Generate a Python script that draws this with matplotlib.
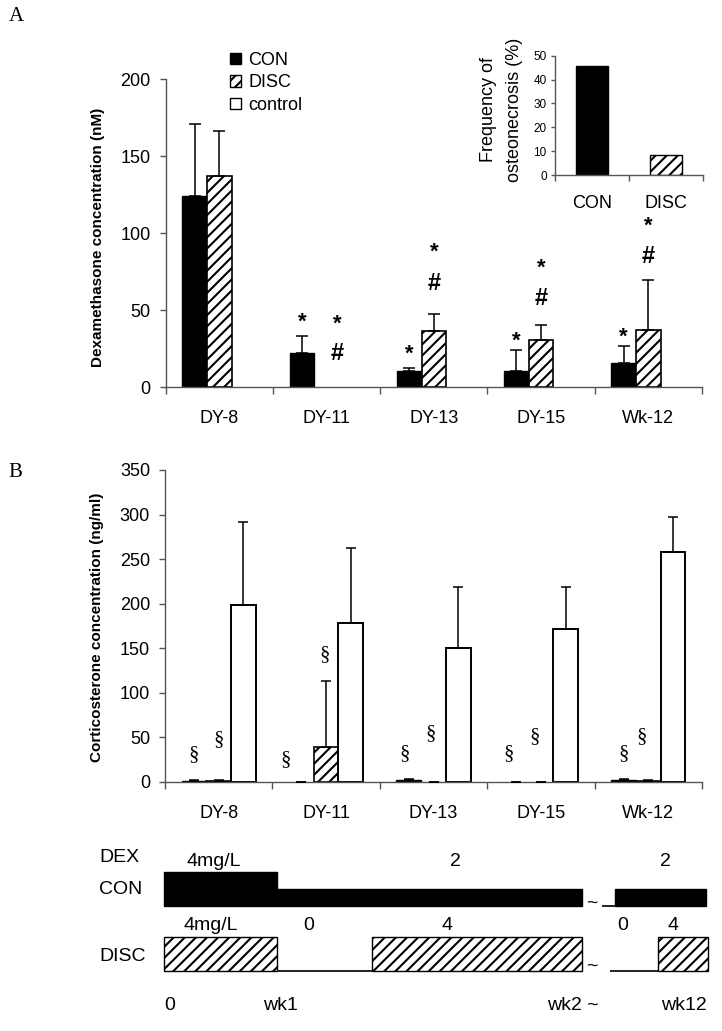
import numpy as np
import matplotlib
matplotlib.use('Agg')
import matplotlib.pyplot as plt
from matplotlib.patches import Patch

plt.rcParams['font.family'] = ['Liberation Sans', 'DejaVu Sans']
plt.rcParams['hatch.linewidth'] = 1.5

# ---------------- data ----------------
days = ['DY-8', 'DY-11', 'DY-13', 'DY-15', 'Wk-12']
series = ['CON', 'DISC', 'control']

dex_con = [124, 22.5, 10.5, 10.5, 15.5]
dex_con_err = [47, 11, 2, 14, 11]
dex_disc = [137, 0, 36.5, 30.5, 37.5]
dex_disc_err = [29.5, 0, 11, 10, 32.5]

freq_groups = ['CON', 'DISC']
freq_values = [45.5, 8.5]

cort_con = [1, 0, 2, 0, 2]
cort_con_err = [1, 0, 1, 0, 1]
cort_disc = [1, 39, 0, 0, 1]
cort_disc_err = [1, 74, 0, 0, 1]
cort_ctrl = [198, 178, 150, 171.5, 258]
cort_ctrl_err = [94, 84, 68.5, 47, 39]

# significance marks: (category index, series index, symbol, y value, x shift)
marks_A = [(1, 0, '*', 46.9, 0), (1, 1, '*', 45.4, 0.1), (1, 1, '#', 23.1, 0.1),
           (2, 0, '*', 25.7, 0), (2, 1, '*', 92.4, 0), (2, 1, '#', 68.6, 0),
           (3, 0, '*', 34.4, 0), (3, 1, '*', 81.6, 0), (3, 1, '#', 58.8, 0),
           (4, 0, '*', 37.2, 0), (4, 1, '*', 109.1, 0), (4, 1, '#', 86.6, 0)]
marks_B = [(0, 0, 30, 0), (0, 1, 46.8, 0),
           (1, 0, 24.4, -0.15), (1, 1, 142.3, -0.01),
           (2, 0, 31.9, -0.04), (2, 1, 54.3, -0.03),
           (3, 0, 31.9, -0.07), (3, 1, 50.5, -0.06),
           (4, 0, 31.9, 0), (4, 1, 50.5, -0.065)]

# dosing schedule (schematic time units)
con_start = [0, 1, 3.88, 3.99]
con_end = [1, 3.70, 3.99, 4.80]
con_dose = [4, 2, 0, 2]
disc_start = [0, 1, 1.84, 3.95, 4.37]
disc_end = [1, 1.84, 3.70, 4.37, 4.81]
disc_dose = [4, 0, 4, 0, 4]
con_dose_labels = ['4mg/L', '2', '2']
con_dose_label_t = [0.44, 2.58, 4.44]
disc_dose_labels = ['4mg/L', '0', '4', '0', '4']
disc_dose_label_t = [0.41, 1.28, 2.5, 4.06, 4.5]
time_labels = ['0', 'wk1', 'wk2 ~', 'wk12']
time_label_t = [0, 1.03, 3.615, 4.805]

# ---------------- figure ----------------
W, H = 722, 1031
fig = plt.figure(figsize=(W / 100, H / 100), dpi=100)
AX = '#555555'
HATCH = '///'
x = np.arange(len(days))
w = 0.23
offs = [-w, 0, w]


def style_axis(ax, labels, fs=13, pad=16.5):
    ax.spines['top'].set_visible(False)
    ax.spines['right'].set_visible(False)
    for s in ('left', 'bottom'):
        ax.spines[s].set_color(AX)
        ax.spines[s].set_linewidth(1.0)
    n = len(labels)
    ax.set_xlim(-0.5, n - 0.5)
    ax.set_xticks(np.arange(-0.5, n, 1))
    ax.set_xticklabels([])
    ax.set_xticks(np.arange(n), minor=True)
    ax.set_xticklabels(labels, minor=True, fontsize=fs)
    ax.tick_params(axis='x', which='major', length=5, direction='out', color=AX, width=1)
    ax.tick_params(axis='x', which='minor', length=0, pad=pad)
    ax.tick_params(axis='y', length=4.3, direction='out', color=AX, width=1, labelsize=13, pad=6.5)


def upper_err(ax, xs, ys, errs, capsize):
    ax.errorbar(xs, ys, yerr=[np.zeros(len(errs)), errs], fmt='none', ecolor='black',
                elinewidth=1.1, capsize=capsize, capthick=1.1, zorder=3)


# ---- Panel A ----
axA = fig.add_axes([165.7 / W, 1 - 387.3 / H, (702 - 165.7) / W, 308 / H])
axA.bar(x + offs[0], dex_con, w, color='black', edgecolor='black', linewidth=1, zorder=2)
axA.bar(x + offs[1], dex_disc, w, color='white', edgecolor='black', hatch=HATCH,
        linewidth=[1.2 if v > 0 else 0 for v in dex_disc], zorder=2)
upper_err(axA, x + offs[0], dex_con, dex_con_err, 4)
pos = np.array(dex_disc) > 0
upper_err(axA, (x + offs[1])[pos], np.array(dex_disc)[pos], np.array(dex_disc_err)[pos], 4)
axA.set_ylim(0, 200)
axA.set_yticks(np.arange(0, 201, 50))
style_axis(axA, days)
sym_shift = {'*': -5.0, '#': -1.5}
for ci, si, sym, yv, dx in marks_A:
    axA.annotate(sym, xy=(ci + offs[si] + dx, yv), xytext=(0, sym_shift[sym]),
                 textcoords='offset points', ha='center', va='center',
                 fontsize=17 if sym == '#' else 16, fontweight='bold')
fig.text(98 / W, 1 - 237.5 / H, 'Dexamethasone concentration (nM)', rotation=90,
         ha='center', va='center', fontsize=11, fontweight='bold')

# legend
handles = [Patch(facecolor='black', edgecolor='black'),
           Patch(facecolor='white', edgecolor='black', hatch=HATCH),
           Patch(facecolor='white', edgecolor='black')]
fig.legend(handles, series, loc='upper left', bbox_to_anchor=(230 / W, 1 - 52 / H),
           frameon=False, fontsize=13, handlelength=0.6, handleheight=0.6,
           handletextpad=0.4, labelspacing=0.3, borderpad=0, borderaxespad=0)

# ---- Inset ----
axI = fig.add_axes([555 / W, 1 - 175 / H, 148 / W, 119.3 / H])
bars = axI.bar(np.arange(2), freq_values, 0.42, color=['black', 'white'], edgecolor='black', linewidth=1)
bars[1].set_hatch(HATCH)
axI.set_ylim(0, 50)
axI.set_yticks(np.arange(0, 51, 10))
style_axis(axI, freq_groups, fs=13, pad=14.5)
axI.tick_params(axis='y', length=3, labelsize=8.5, pad=3)
axI.tick_params(axis='x', which='major', length=4.5)
axI.text(-0.361, 0.545, 'Frequency of\nosteonecrosis (%)', rotation=90, ha='center', va='center',
         fontsize=13, transform=axI.transAxes, linespacing=1.7, multialignment='center')

# ---- Panel B ----
axB = fig.add_axes([165 / W, 1 - 781.7 / H, 537 / W, 311.7 / H])
axB.bar(x + offs[0], cort_con, w, color='black', edgecolor='black',
        linewidth=[1 if v > 0 else 0 for v in cort_con], zorder=2)
axB.bar(x + offs[1], cort_disc, w, color='white', edgecolor='black', hatch=HATCH,
        linewidth=[1.2 if v > 0 else 0 for v in cort_disc], zorder=2)
axB.bar(x + offs[2], cort_ctrl, w, color='white', edgecolor='black', linewidth=1.4, zorder=2)
upper_err(axB, x + offs[0], cort_con, cort_con_err, 3.6)
upper_err(axB, x + offs[1], cort_disc, cort_disc_err, 3.6)
upper_err(axB, x + offs[2], cort_ctrl, cort_ctrl_err, 3.6)
axB.set_ylim(0, 350)
axB.set_yticks(np.arange(0, 351, 50))
style_axis(axB, days)
for ci, si, yv, dx in marks_B:
    axB.text(ci + offs[si] + dx, yv, '§', ha='center', va='center', fontsize=15,
             family=['Liberation Serif', 'DejaVu Serif'])
fig.text(96.7 / W, 1 - 627 / H, 'Corticosterone concentration (ng/ml)', rotation=90,
         ha='center', va='center', fontsize=11, fontweight='bold')

# panel letters
fig.text(16.7 / W, 1 - 16.7 / H, 'A', ha='center', va='center', fontsize=15,
         family=['Liberation Serif', 'DejaVu Serif'])
fig.text(15.5 / W, 1 - 473 / H, 'B', ha='center', va='center', fontsize=15,
         family=['Liberation Serif', 'DejaVu Serif'])

# ---- Schematic ----
axS = fig.add_axes([0, 0, 1, 201 / H])
px_unit = 113.0
axS.set_xlim(-164 / px_unit, (W - 164) / px_unit)
axS.set_ylim(0, 201)
axS.axis('off')
k = 8.4
con_base, disc_base = 125.5, 60.0


def draw_row(starts, ends, doses, base, face, hatch):
    for s, e, d in zip(starts, ends, doses):
        if d > 0:
            axS.bar(s, d * k, e - s, bottom=base, align='edge', color=face,
                    edgecolor='black', linewidth=1.0, hatch=hatch)
        else:
            axS.plot([s, e], [base, base], color='#222222', lw=1.4, solid_capstyle='butt')


draw_row(con_start, con_end, con_dose, con_base, 'black', None)
draw_row(disc_start, disc_end, disc_dose, disc_base, 'white', HATCH)
fs_s = 14
for lab, t in zip(con_dose_labels, con_dose_label_t):
    axS.text(t, 169, lab, ha='center', va='center', fontsize=fs_s)
for lab, t in zip(disc_dose_labels, disc_dose_label_t):
    axS.text(t, 105, lab, ha='center', va='center', fontsize=fs_s)
ha_t = ['left', 'center', 'center', 'right']
for lab, t, ha in zip(time_labels, time_label_t, ha_t):
    axS.text(t, 25, lab, ha=ha, va='center', fontsize=fs_s)
lab_x = (99 - 164) / px_unit
for lab, yy in zip(['DEX', 'CON', 'DISC'], [174, 141, 74.3]):
    axS.text(lab_x, yy, lab, ha='left', va='center', fontsize=fs_s)
brk = (592 - 164) / px_unit
axS.text(brk, 128, '~', ha='center', va='center', fontsize=14)
axS.text(brk, 65, '~', ha='center', va='center', fontsize=14)

fig.savefig('out.png', dpi=100)
